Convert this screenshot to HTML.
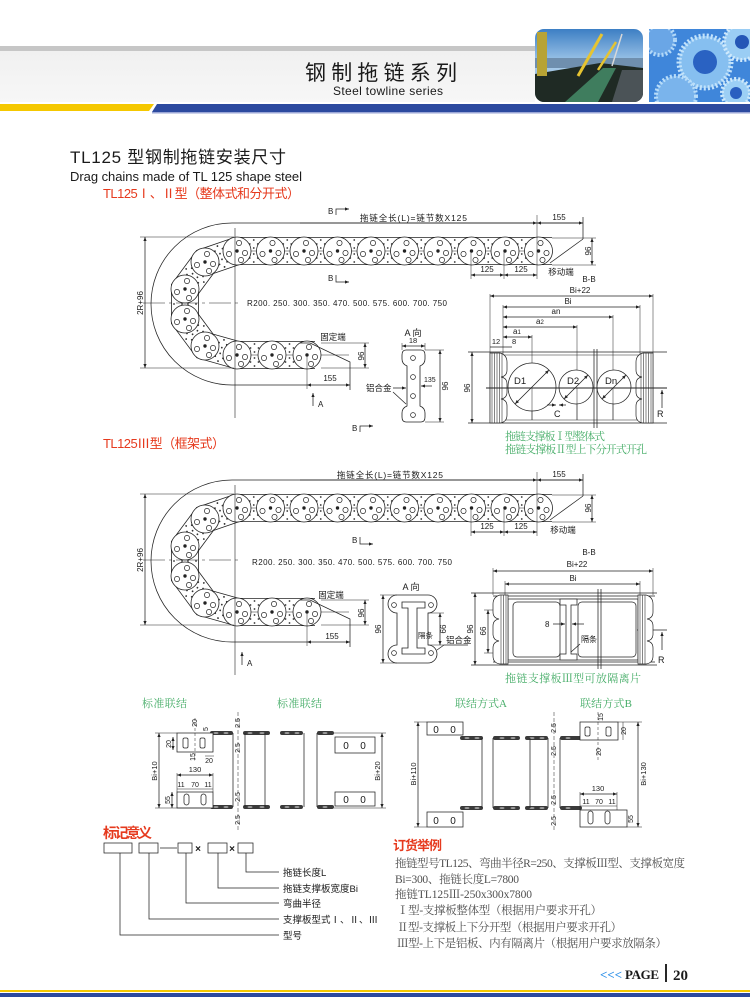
<!DOCTYPE html>
<html><head><meta charset="utf-8">
<style>
html,body{margin:0;padding:0;background:#fff;}
svg{display:block}
text{font-family:"Liberation Sans","Noto Sans CJK SC",sans-serif;fill:#1a1a1a}
text.s{font-family:"Liberation Serif","Noto Serif CJK SC",serif}
text.g{fill:#46ad68}
text.r{fill:#e63a1e}
text.o{font-family:"Liberation Serif","Noto Serif CJK SC",serif;fill:#505050;font-size:11.5px}
.t{font-size:8px}
.ln{fill:none;stroke:#222;stroke-width:.75}
.th{fill:none;stroke:#222;stroke-width:.5}
</style></head><body>
<svg width="750" height="1000" viewBox="0 0 750 1000" xmlns="http://www.w3.org/2000/svg">
<defs>
<marker id="ar" viewBox="0 0 10 10" refX="10" refY="5" markerUnits="userSpaceOnUse" markerWidth="5" markerHeight="4" orient="auto-start-reverse"><path d="M0,1 L10,5 L0,9z" fill="#222"/></marker>
<linearGradient id="sky" x1="0" y1="0" x2="0" y2="1"><stop offset="0" stop-color="#3d7fc4"/><stop offset=".5" stop-color="#a9cdec"/><stop offset="1" stop-color="#7e9fbd"/></linearGradient>
<linearGradient id="hb" x1="0" y1="0" x2="0" y2="1"><stop offset="0" stop-color="#f0f0f0"/><stop offset="1" stop-color="#f7f7f7"/></linearGradient>
<clipPath id="c1"><rect x="535" y="29" width="108" height="73" rx="9"/></clipPath>
<clipPath id="c2"><rect x="649" y="29" width="101" height="73"/></clipPath>
<g id="L"><circle r="14" fill="#fff" stroke="#222" stroke-width=".8"/><g fill="none" stroke="#222" stroke-width=".7"><circle cx="2" cy="-8" r="2.6"/><circle cx="-8" cy="3" r="2.6"/><circle cx="8" cy="2" r="2.6"/><circle cx="4" cy="9" r="2.6"/></g><circle r="1.7" fill="#222"/></g>
<g id="D" fill="#333"><circle cy="-11" r=".9"/><circle cx="-4" cy="-7" r=".9"/><circle cx="4" cy="-7" r=".9"/><circle cy="-3" r=".9"/><circle cy="3" r=".9"/><circle cx="-4" cy="7" r=".9"/><circle cx="4" cy="7" r=".9"/><circle cy="11" r=".9"/></g>
</defs>

<!-- HEADER -->
<rect x="0" y="46" width="535" height="5" fill="#c6c6c6"/>
<rect x="0" y="51" width="535" height="51" fill="url(#hb)"/>
<text x="305" y="80" font-size="21" textLength="152" lengthAdjust="spacing">钢制拖链系列</text>
<text x="333" y="95" font-size="12" textLength="110">Steel towline series</text>
<g clip-path="url(#c1)">
<rect x="535" y="29" width="108" height="73" fill="url(#sky)"/>
<rect x="535" y="58" width="108" height="10" fill="#6f8fae"/>
<polygon points="535,102 535,74 600,63 643,68 643,102" fill="#1f2a24"/>
<polygon points="565,102 603,68 616,68 598,102" fill="#3f7d5e"/>
<polygon points="612,102 622,70 643,70 643,102" fill="#4b5357"/>
<rect x="537" y="32" width="10" height="44" fill="#b7a335"/>
<line x1="578" y1="76" x2="602" y2="34" stroke="#e6c431" stroke-width="3"/>
<line x1="598" y1="70" x2="616" y2="42" stroke="#e6c431" stroke-width="2.5"/>
<line x1="612" y1="66" x2="622" y2="34" stroke="#d8d8d8" stroke-width="1.5"/>
</g>
<g clip-path="url(#c2)">
<rect x="649" y="29" width="101" height="73" fill="#3f86da"/>
<circle cx="705" cy="62" r="26" fill="#86bff0" stroke="#c3e3fb" stroke-width="5" stroke-dasharray="2 2"/>
<circle cx="705" cy="62" r="12" fill="#2a62c2"/>
<circle cx="742" cy="42" r="18" fill="#9acdf4" stroke="#cfe9fc" stroke-width="4" stroke-dasharray="2 2"/>
<circle cx="742" cy="42" r="7" fill="#2456b6"/>
<circle cx="676" cy="96" r="20" fill="#7ab4ec" stroke="#b9ddf9" stroke-width="4" stroke-dasharray="2 2"/>
<circle cx="736" cy="93" r="14" fill="#9ccff5" stroke="#cde8fb" stroke-width="4" stroke-dasharray="2 2"/>
<circle cx="736" cy="93" r="6" fill="#2a5fc0"/>
<circle cx="660" cy="40" r="15" fill="#6aa6e6" stroke="#b2d8f8" stroke-width="4" stroke-dasharray="2 2"/>
</g>
<polygon points="0,104 154,104 149,111 0,111" fill="#f5c800"/>
<polygon points="157,104 750,104 750,112 152,112" fill="#2c4a9f"/>
<rect x="152" y="112" width="598" height="1.5" fill="#9aa6d6"/>

<!-- HEADINGS -->
<text x="70" y="163" font-size="17" textLength="216">TL125 型钢制拖链安装尺寸</text>
<text x="70" y="181" font-size="13" textLength="232">Drag chains made of TL 125 shape steel</text>
<text x="103" y="198" font-size="13" class="r" textLength="197">TL125Ⅰ、Ⅱ型（整体式和分开式）</text>

<!-- CHAIN DIAGRAM 1 (geometry) -->
<g id="CH">
<path d="M552,251 L237,251 L205,262 L185,289 L185,319 L205,346 L237,355 L315,355" fill="none" stroke="#222" stroke-width="28"/>
<path d="M552,251 L237,251 L205,262 L185,289 L185,319 L205,346 L237,355 L315,355" fill="none" stroke="#fff" stroke-width="26.4"/>
<use href="#D" x="253.75" y="251"/><use href="#D" x="287.25" y="251"/><use href="#D" x="320.75" y="251"/><use href="#D" x="354.25" y="251"/><use href="#D" x="387.75" y="251"/><use href="#D" x="421.25" y="251"/><use href="#D" x="454.75" y="251"/><use href="#D" x="488.25" y="251"/><use href="#D" x="521.75" y="251"/>
<use href="#D" transform="translate(221,256.5) rotate(-19)"/>
<use href="#D" transform="translate(195,275.5) rotate(-53.5)"/>
<use href="#D" transform="translate(185,304) rotate(90)"/>
<use href="#D" transform="translate(195,332.5) rotate(53.5)"/>
<use href="#D" transform="translate(221,350.5) rotate(15.7)"/>
<use href="#D" x="254.5" y="355"/><use href="#D" x="289.5" y="355"/>
<line x1="237" y1="251" x2="552" y2="251" class="th"/>
<line x1="237" y1="355" x2="349" y2="355" class="th"/>
<use href="#L" x="237" y="251"/><use href="#L" x="270.5" y="251"/><use href="#L" x="304" y="251"/><use href="#L" x="337.5" y="251"/><use href="#L" x="371" y="251"/><use href="#L" x="404.5" y="251"/><use href="#L" x="438" y="251"/><use href="#L" x="471.5" y="251"/><use href="#L" x="505" y="251"/><use href="#L" x="538.5" y="251"/>
<use href="#L" x="205" y="262"/><use href="#L" x="185" y="289"/><use href="#L" x="185" y="319"/><use href="#L" x="205" y="346"/>
<use href="#L" x="237" y="355"/><use href="#L" x="272" y="355"/><use href="#L" x="307" y="355"/>
<g class="ln">
<path d="M583,223 H232 A81,81 0 0 0 232,385 H307"/>
<line x1="235" y1="228" x2="235" y2="418" stroke-width=".6"/>
<line x1="143" y1="303" x2="242" y2="303" stroke-dasharray="22 4 3 4" stroke-width=".6"/>
<line x1="140" y1="237" x2="234" y2="237" class="th"/>
<line x1="140" y1="368" x2="234" y2="368" class="th"/>
<line x1="145" y1="237" x2="145" y2="368" marker-start="url(#ar)" marker-end="url(#ar)"/>
<line x1="300" y1="223" x2="537" y2="223" marker-end="url(#ar)"/>
<line x1="537" y1="223" x2="583" y2="223" marker-start="url(#ar)" marker-end="url(#ar)"/>
<line x1="537" y1="215" x2="537" y2="279" class="th"/>
<line x1="583" y1="217" x2="583" y2="239"/>
<line x1="583" y1="239" x2="550" y2="263"/>
<line x1="552" y1="238" x2="596" y2="238" class="th"/>
<line x1="552" y1="265" x2="596" y2="265" class="th"/>
<line x1="592" y1="238" x2="592" y2="265" marker-start="url(#ar)" marker-end="url(#ar)"/>
<line x1="471" y1="251" x2="471" y2="279" class="th"/>
<line x1="504" y1="251" x2="504" y2="279" class="th"/>
<line x1="471" y1="275" x2="504" y2="275" marker-start="url(#ar)" marker-end="url(#ar)"/>
<line x1="504" y1="275" x2="537" y2="275" marker-start="url(#ar)" marker-end="url(#ar)"/>
<path d="M300,343 H310 L350,362 V390"/>
<line x1="321" y1="343" x2="369" y2="343" class="th"/>
<line x1="321" y1="368" x2="369" y2="368" class="th"/>
<line x1="365" y1="343" x2="365" y2="368" marker-start="url(#ar)" marker-end="url(#ar)"/>
<line x1="307" y1="357" x2="307" y2="389" class="th"/>
<line x1="307" y1="385" x2="350" y2="385" marker-start="url(#ar)" marker-end="url(#ar)"/>
</g>
</g>

<!-- diagram 1 labels -->
<g class="t">
<text x="328" y="214">B</text><path d="M336,215 V209 H349" class="ln" marker-end="url(#ar)"/>
<text x="360" y="221" font-size="8.5" textLength="107">拖链全长(L)=链节数X125</text>
<text x="559" y="220" text-anchor="middle">155</text>
<text x="487" y="272" text-anchor="middle">125</text>
<text x="521" y="272" text-anchor="middle">125</text>
<text x="561" y="275" text-anchor="middle" font-size="8.5">移动端</text>
<text x="591" y="251" transform="rotate(-90 591 251)" text-anchor="middle">96</text>
<text x="328" y="281">B</text><path d="M336,275 V282 H349" class="ln" marker-end="url(#ar)"/>
<text x="143" y="303" transform="rotate(-90 143 303)" text-anchor="middle">2R+96</text>
<text x="247" y="306" textLength="200">R200. 250. 300. 350. 470. 500. 575. 600. 700. 750</text>
<text x="333" y="340" text-anchor="middle" font-size="8.5">固定端</text>
<text x="364" y="356" transform="rotate(-90 364 356)" text-anchor="middle">96</text>
<text x="330" y="381" text-anchor="middle">155</text>
<line x1="313" y1="406" x2="313" y2="393" class="ln" marker-end="url(#ar)"/>
<text x="318" y="407">A</text>
<text x="352" y="431">B</text><path d="M360,432 V426 H373" class="ln" marker-end="url(#ar)"/>
</g>

<!-- A view 1 -->
<g class="t">
<text x="413" y="336" text-anchor="middle" font-size="9">A 向</text>
<path d="M406,350 Q402,350 402,355 V359 Q402,364 407,366 V406 Q402,408 402,413 V417 Q402,422 406,422 H421 Q425,422 425,417 V413 Q425,408 420,406 V366 Q425,364 425,359 V355 Q425,350 421,350 Z" fill="#fff" stroke="#222" stroke-width=".8"/>
<g fill="none" stroke="#222" stroke-width=".7"><circle cx="413" cy="358" r="2.4"/><circle cx="413" cy="377" r="2.4"/><circle cx="413" cy="396" r="2.4"/><circle cx="413" cy="415" r="2.4"/></g>
<g class="ln">
<line x1="402" y1="343" x2="402" y2="350" class="th"/><line x1="425" y1="343" x2="425" y2="350" class="th"/>
<line x1="402" y1="346" x2="425" y2="346" marker-start="url(#ar)" marker-end="url(#ar)"/>
<line x1="425" y1="350" x2="444" y2="350" class="th"/><line x1="425" y1="422" x2="444" y2="422" class="th"/>
<line x1="440" y1="350" x2="440" y2="422" marker-start="url(#ar)" marker-end="url(#ar)"/>
<line x1="432" y1="386" x2="421" y2="386" marker-end="url(#ar)"/>
<line x1="393" y1="388" x2="406" y2="388" marker-end="url(#ar)"/>
<line x1="393" y1="392" x2="406" y2="404"/>
</g>
<text x="413" y="343" text-anchor="middle" font-size="7.5">18</text>
<text x="424" y="382" font-size="7">135</text>
<text x="448" y="386" transform="rotate(-90 448 386)" text-anchor="middle">96</text>
<text x="366" y="391" font-size="8.5">铝合金</text>
</g>

<!-- B-B section 1 -->
<g class="t">
<text x="589" y="282" text-anchor="middle">B-B</text>
<text x="580" y="293" text-anchor="middle">Bi+22</text>
<text x="568" y="304" text-anchor="middle">Bi</text>
<text x="556" y="314" text-anchor="middle">an</text>
<text x="536" y="324">a<tspan font-size="6">2</tspan></text>
<text x="513" y="334">a<tspan font-size="6">1</tspan></text>
<text x="496" y="344" text-anchor="middle" font-size="7.5">12</text>
<text x="512" y="344" font-size="7.5">8</text>
<g class="ln">
<line x1="490" y1="294" x2="490" y2="423" class="th"/>
<line x1="653" y1="294" x2="653" y2="423" class="th"/>
<line x1="503" y1="305" x2="503" y2="423" class="th"/>
<line x1="640" y1="305" x2="640" y2="423" class="th"/>
<line x1="532" y1="335" x2="532" y2="420" class="th"/>
<line x1="577" y1="325" x2="577" y2="420" class="th"/>
<line x1="613" y1="315" x2="613" y2="420" class="th"/>
<line x1="490" y1="296" x2="653" y2="296" marker-start="url(#ar)" marker-end="url(#ar)"/>
<line x1="503" y1="307" x2="640" y2="307" marker-start="url(#ar)" marker-end="url(#ar)"/>
<line x1="503" y1="317" x2="613" y2="317" marker-start="url(#ar)" marker-end="url(#ar)"/>
<line x1="503" y1="327" x2="577" y2="327" marker-start="url(#ar)" marker-end="url(#ar)"/>
<line x1="503" y1="337" x2="532" y2="337" marker-start="url(#ar)" marker-end="url(#ar)"/>
<line x1="490" y1="347" x2="503" y2="347"/>
<line x1="503" y1="347" x2="512" y2="347"/>
<line x1="468" y1="352" x2="667" y2="352"/>
<line x1="490" y1="355" x2="653" y2="355" class="th"/>
<line x1="468" y1="423" x2="667" y2="423"/>
<line x1="490" y1="420" x2="653" y2="420" class="th"/>
<line x1="472" y1="352" x2="472" y2="423" marker-start="url(#ar)" marker-end="url(#ar)"/>
<line x1="594" y1="349" x2="594" y2="428"/>
<line x1="597" y1="349" x2="597" y2="428"/>
<circle cx="532" cy="387" r="24" fill="#fff"/>
<circle cx="576" cy="387" r="17" fill="#fff"/>
<circle cx="614" cy="387" r="17" fill="#fff"/>
<line x1="515" y1="404" x2="549" y2="370" marker-start="url(#ar)" marker-end="url(#ar)"/>
<line x1="564" y1="399" x2="588" y2="375" marker-start="url(#ar)" marker-end="url(#ar)"/>
<line x1="602" y1="399" x2="626" y2="375" marker-start="url(#ar)" marker-end="url(#ar)"/>
<line x1="532" y1="388" x2="532" y2="420" class="th"/>
<line x1="577" y1="388" x2="577" y2="420" class="th"/>
<line x1="613" y1="388" x2="613" y2="420" class="th"/>
<line x1="547" y1="405" x2="556" y2="405" marker-end="url(#ar)"/>
<line x1="566" y1="405" x2="559" y2="405" marker-end="url(#ar)"/>
<line x1="662" y1="390" x2="662" y2="408" marker-start="url(#ar)"/>
</g>
<g fill="#fff" stroke="#222" stroke-width=".7">
<path d="M490,353 H500 Q507,355 507,362 V370 Q507,376 501,377 Q507,378 507,384 V392 Q507,398 501,399 Q507,400 507,406 V415 Q507,422 500,423 H490 Z"/>
<path d="M653,353 H643 Q636,355 636,362 V370 Q636,376 642,377 Q636,378 636,384 V392 Q636,398 642,399 Q636,400 636,406 V415 Q636,422 643,423 H653 Z"/>
</g>
<g stroke="#333" stroke-width=".6"><line x1="492" y1="353" x2="492" y2="423"/><line x1="494.5" y1="353" x2="494.5" y2="423"/><line x1="497" y1="353" x2="497" y2="423"/><line x1="499.5" y1="353" x2="499.5" y2="423"/><line x1="502" y1="353" x2="502" y2="423"/>
<line x1="651" y1="353" x2="651" y2="423"/><line x1="648.5" y1="353" x2="648.5" y2="423"/><line x1="646" y1="353" x2="646" y2="423"/><line x1="643.5" y1="353" x2="643.5" y2="423"/><line x1="641" y1="353" x2="641" y2="423"/></g>
<line x1="486" y1="388" x2="667" y2="388" stroke="#222" stroke-width="1"/>
<text x="514" y="384" font-size="9.5">D1</text>
<text x="567" y="384" font-size="9.5">D2</text>
<text x="605" y="384" font-size="9.5">Dn</text>
<text x="554" y="417" font-size="9">C</text>
<text x="657" y="417" font-size="9">R</text>
<text x="470" y="388" transform="rotate(-90 470 388)" text-anchor="middle">96</text>
</g>
<text x="505" y="440" class="s g" font-size="11" textLength="100">拖链支撑板Ⅰ型整体式</text>
<text x="505" y="453" class="s g" font-size="11" textLength="142">拖链支撑板Ⅱ型上下分开式开孔</text>

<text x="103" y="448" font-size="13" class="r" textLength="122">TL125Ⅲ型（框架式）</text>

<!-- CHAIN DIAGRAM 2 -->
<use href="#CH" transform="translate(0,257)"/>
<g class="t">
<text x="337" y="478" font-size="8.5" textLength="106">拖链全长(L)=链节数X125</text>
<text x="559" y="477" text-anchor="middle">155</text>
<text x="487" y="529" text-anchor="middle">125</text>
<text x="521" y="529" text-anchor="middle">125</text>
<text x="563" y="533" text-anchor="middle" font-size="8.5">移动端</text>
<text x="591" y="508" transform="rotate(-90 591 508)" text-anchor="middle">96</text>
<text x="352" y="543">B</text><path d="M360,537 V544 H373" class="ln" marker-end="url(#ar)"/>
<text x="143" y="560" transform="rotate(-90 143 560)" text-anchor="middle">2R+96</text>
<text x="252" y="565" textLength="200">R200. 250. 300. 350. 470. 500. 575. 600. 700. 750</text>
<text x="331" y="598" text-anchor="middle" font-size="8.5">固定端</text>
<text x="364" y="613" transform="rotate(-90 364 613)" text-anchor="middle">96</text>
<text x="332" y="639" text-anchor="middle">155</text>
<line x1="242" y1="665" x2="242" y2="652" class="ln" marker-end="url(#ar)"/>
<text x="247" y="666">A</text>
</g>

<!-- A view 2 -->
<g class="t">
<text x="411" y="590" text-anchor="middle" font-size="9">A 向</text>
<path d="M397,595 H428 A9,9 0 0 1 437,604 A9,9 0 0 1 428,613 V645 A9,9 0 0 1 437,654 A9,9 0 0 1 428,663 H397 A9,9 0 0 1 388,654 A9,9 0 0 1 397,645 V613 A9,9 0 0 1 388,604 A9,9 0 0 1 397,595 Z" fill="#fff" stroke="#222" stroke-width=".8"/>
<path d="M402,602 H425 V608 H417 V648 H425 V654 H402 V648 H408 V608 H402 Z" fill="#fff" stroke="#222" stroke-width=".8"/>
<g fill="none" stroke="#222" stroke-width=".7"><circle cx="394" cy="605" r="2.4"/><circle cx="431" cy="605" r="2.4"/><circle cx="394" cy="653" r="2.4"/><circle cx="431" cy="653" r="2.4"/></g>
<g class="ln">
<line x1="380" y1="595" x2="397" y2="595" class="th"/><line x1="380" y1="663" x2="397" y2="663" class="th"/>
<line x1="383" y1="595" x2="383" y2="663" marker-start="url(#ar)" marker-end="url(#ar)"/>
<line x1="428" y1="613" x2="444" y2="613" class="th"/><line x1="428" y1="645" x2="444" y2="645" class="th"/>
<line x1="440" y1="613" x2="440" y2="645" marker-start="url(#ar)" marker-end="url(#ar)"/>
<line x1="437" y1="650" x2="444" y2="645"/><line x1="444" y1="645" x2="468" y2="645"/>
</g>
<text x="381" y="629" transform="rotate(-90 381 629)" text-anchor="middle">96</text>
<text x="446" y="629" transform="rotate(-90 446 629)" text-anchor="middle">66</text>
<text x="418" y="638" font-size="7.5">隔条</text>
<text x="446" y="643" font-size="8.5">铝合金</text>
</g>

<!-- B-B section 2 -->
<g class="t">
<text x="589" y="555" text-anchor="middle">B-B</text>
<text x="577" y="567" text-anchor="middle">Bi+22</text>
<text x="573" y="581" text-anchor="middle">Bi</text>
<g class="ln">
<line x1="493" y1="568" x2="493" y2="595" class="th"/><line x1="653" y1="568" x2="653" y2="595" class="th"/>
<line x1="493" y1="571" x2="653" y2="571" marker-start="url(#ar)" marker-end="url(#ar)"/>
<line x1="505" y1="581" x2="505" y2="598" class="th"/><line x1="640" y1="581" x2="640" y2="598" class="th"/>
<line x1="505" y1="584" x2="640" y2="584" marker-start="url(#ar)" marker-end="url(#ar)"/>
<line x1="471" y1="593" x2="657" y2="593"/>
<line x1="493" y1="596" x2="655" y2="596"/>
<line x1="493" y1="662" x2="655" y2="662"/>
<line x1="471" y1="665" x2="657" y2="665"/>
<rect x="508" y="599" width="130" height="61"/>
<rect x="513" y="602" width="47" height="55" rx="4"/>
<rect x="578" y="602" width="58" height="55" rx="4"/>
<path d="M560,599 H577 V605 H571 V654 H577 V660 H560 V654 H566 V605 H560 Z" fill="#fff"/>
<line x1="598" y1="589" x2="598" y2="669"/><line x1="601" y1="589" x2="601" y2="669"/>
<line x1="475" y1="593" x2="475" y2="665" marker-start="url(#ar)" marker-end="url(#ar)"/>
<line x1="484" y1="610" x2="500" y2="610" class="th"/><line x1="484" y1="653" x2="500" y2="653" class="th"/>
<line x1="488" y1="610" x2="488" y2="653" marker-start="url(#ar)" marker-end="url(#ar)"/>
<line x1="553" y1="624" x2="565" y2="624" marker-end="url(#ar)"/>
<line x1="584" y1="624" x2="572" y2="624" marker-end="url(#ar)"/>
<line x1="580" y1="644" x2="571" y2="652"/>
<line x1="637" y1="630" x2="667" y2="630"/>
<line x1="662" y1="632" x2="662" y2="650" marker-start="url(#ar)"/>
</g>
<g fill="#fff" stroke="#222" stroke-width=".7">
<path d="M508,595 H500 Q493,597 493,604 V612 Q493,618 499,619 Q493,620 493,626 V634 Q493,640 499,641 Q493,642 493,648 V656 Q493,663 500,664 H508 Z"/>
<path d="M638,595 H646 Q653,597 653,604 V612 Q653,618 647,619 Q653,620 653,626 V634 Q653,640 647,641 Q653,642 653,648 V656 Q653,663 646,664 H638 Z"/>
</g>
<g stroke="#333" stroke-width=".6"><line x1="501" y1="595" x2="501" y2="664"/><line x1="503.5" y1="595" x2="503.5" y2="664"/><line x1="506" y1="595" x2="506" y2="664"/>
<line x1="640" y1="595" x2="640" y2="664"/><line x1="642.5" y1="595" x2="642.5" y2="664"/><line x1="645" y1="595" x2="645" y2="664"/></g>
<text x="545" y="627" font-size="8">8</text>
<text x="581" y="642" font-size="8">隔条</text>
<text x="658" y="663" font-size="9">R</text>
<text x="473" y="629" transform="rotate(-90 473 629)" text-anchor="middle">96</text>
<text x="486" y="631" transform="rotate(-90 486 631)" text-anchor="middle">66</text>
</g>
<text x="505" y="682" class="s g" font-size="11" textLength="136">拖链支撑板Ⅲ型可放隔离片</text>

<!-- CONNECTION FIGURES -->
<text x="142" y="707" class="s g" font-size="11" textLength="45">标准联结</text>
<text x="277" y="707" class="s g" font-size="11" textLength="45">标准联结</text>
<text x="455" y="707" class="s g" font-size="11" textLength="52">联结方式A</text>
<text x="580" y="707" class="s g" font-size="11" textLength="52">联结方式B</text>

<g fill="#3a3a3a">
<rect x="210" y="731" width="23" height="4" rx="2"/><rect x="243" y="731" width="27" height="4" rx="2"/>
<rect x="210" y="805" width="23" height="4" rx="2"/><rect x="243" y="805" width="27" height="4" rx="2"/>
<rect x="280" y="731" width="23" height="4" rx="2"/><rect x="317" y="731" width="17" height="4" rx="2"/>
<rect x="280" y="805" width="23" height="4" rx="2"/><rect x="317" y="805" width="17" height="4" rx="2"/>
<rect x="460" y="736" width="23" height="4" rx="2"/><rect x="493" y="736" width="27" height="4" rx="2"/>
<rect x="525" y="736" width="23" height="4" rx="2"/><rect x="560" y="736" width="22" height="4" rx="2"/>
<rect x="460" y="806" width="23" height="4" rx="2"/><rect x="493" y="806" width="27" height="4" rx="2"/>
<rect x="525" y="806" width="23" height="4" rx="2"/><rect x="560" y="806" width="22" height="4" rx="2"/>
</g>
<g fill="#9a9a9a">
<ellipse cx="216" cy="733" rx="2.5" ry="1"/><ellipse cx="226" cy="733" rx="2.5" ry="1"/><ellipse cx="250" cy="733" rx="2.5" ry="1"/><ellipse cx="262" cy="733" rx="2.5" ry="1"/>
<ellipse cx="216" cy="807" rx="2.5" ry="1"/><ellipse cx="226" cy="807" rx="2.5" ry="1"/><ellipse cx="250" cy="807" rx="2.5" ry="1"/><ellipse cx="262" cy="807" rx="2.5" ry="1"/>
<ellipse cx="287" cy="733" rx="2.5" ry="1"/><ellipse cx="297" cy="733" rx="2.5" ry="1"/><ellipse cx="325" cy="733" rx="2.5" ry="1"/>
<ellipse cx="287" cy="807" rx="2.5" ry="1"/><ellipse cx="297" cy="807" rx="2.5" ry="1"/><ellipse cx="325" cy="807" rx="2.5" ry="1"/>
<ellipse cx="467" cy="738" rx="2.5" ry="1"/><ellipse cx="477" cy="738" rx="2.5" ry="1"/><ellipse cx="502" cy="738" rx="2.5" ry="1"/><ellipse cx="513" cy="738" rx="2.5" ry="1"/><ellipse cx="532" cy="738" rx="2.5" ry="1"/><ellipse cx="542" cy="738" rx="2.5" ry="1"/><ellipse cx="568" cy="738" rx="2.5" ry="1"/>
<ellipse cx="467" cy="808" rx="2.5" ry="1"/><ellipse cx="477" cy="808" rx="2.5" ry="1"/><ellipse cx="502" cy="808" rx="2.5" ry="1"/><ellipse cx="513" cy="808" rx="2.5" ry="1"/><ellipse cx="532" cy="808" rx="2.5" ry="1"/><ellipse cx="542" cy="808" rx="2.5" ry="1"/><ellipse cx="568" cy="808" rx="2.5" ry="1"/>
</g>
<g class="ln">
<!-- fig1 -->
<line x1="233" y1="733" x2="233" y2="807"/><line x1="245" y1="733" x2="245" y2="807"/><line x1="265" y1="733" x2="265" y2="807"/>
<line x1="238" y1="712" x2="238" y2="830" stroke-dasharray="4 2" class="th"/>
<rect x="177" y="733" width="36" height="19" fill="#fff"/>
<rect x="183" y="738" width="5" height="10" rx="1.5"/><rect x="200" y="738" width="5" height="10" rx="1.5"/>
<line x1="195" y1="718" x2="195" y2="760" class="th" stroke-dasharray="3 2"/>
<line x1="173" y1="737" x2="173" y2="750" marker-start="url(#ar)" marker-end="url(#ar)"/>
<line x1="205" y1="756" x2="214" y2="756" class="th"/>
<rect x="177" y="792" width="36" height="16" fill="#fff"/>
<rect x="184" y="794" width="5" height="11" rx="2.5"/><rect x="201" y="794" width="5" height="11" rx="2.5"/>
<line x1="177" y1="775" x2="213" y2="775" marker-start="url(#ar)" marker-end="url(#ar)"/>
<line x1="177" y1="773" x2="177" y2="792" class="th"/><line x1="213" y1="773" x2="213" y2="792" class="th"/>
<line x1="177" y1="789" x2="213" y2="789" class="th"/>
<line x1="172" y1="792" x2="172" y2="808" marker-start="url(#ar)" marker-end="url(#ar)"/>
<line x1="155" y1="733" x2="177" y2="733" class="th"/><line x1="155" y1="808" x2="210" y2="808" class="th"/>
<line x1="159" y1="733" x2="159" y2="808" marker-start="url(#ar)" marker-end="url(#ar)"/>
<!-- fig2 -->
<line x1="304" y1="733" x2="304" y2="807"/><line x1="317" y1="733" x2="317" y2="807"/>
<rect x="335" y="737" width="40" height="16" fill="#fff"/>
<rect x="335" y="792" width="40" height="14" fill="#fff"/>
<line x1="334" y1="733" x2="386" y2="733" class="th"/><line x1="334" y1="808" x2="386" y2="808" class="th"/>
<line x1="382" y1="733" x2="382" y2="808" marker-start="url(#ar)" marker-end="url(#ar)"/>
<!-- fig3 A -->
<rect x="427" y="722" width="36" height="13" fill="#fff"/>
<rect x="427" y="812" width="36" height="15" fill="#fff"/>
<line x1="482" y1="738" x2="482" y2="808"/><line x1="493" y1="738" x2="493" y2="808"/>
<line x1="414" y1="722" x2="427" y2="722" class="th"/><line x1="414" y1="827" x2="427" y2="827" class="th"/>
<line x1="418" y1="722" x2="418" y2="827" marker-start="url(#ar)" marker-end="url(#ar)"/>
<line x1="530" y1="738" x2="530" y2="808"/><line x1="548" y1="738" x2="548" y2="808"/><line x1="560" y1="738" x2="560" y2="808"/>
<line x1="554" y1="712" x2="554" y2="830" stroke-dasharray="4 2" class="th"/>
<!-- fig3 B -->
<rect x="580" y="722" width="38" height="18" fill="#fff"/>
<rect x="585" y="727" width="5" height="9" rx="1.5"/><rect x="606" y="727" width="5" height="9" rx="1.5"/>
<line x1="598" y1="712" x2="598" y2="760" class="th" stroke-dasharray="3 2"/>
<rect x="580" y="810" width="47" height="17" fill="#fff"/>
<rect x="588" y="811" width="5" height="13" rx="2.5"/><rect x="605" y="811" width="5" height="13" rx="2.5"/>
<line x1="580" y1="794" x2="617" y2="794" marker-start="url(#ar)" marker-end="url(#ar)"/>
<line x1="580" y1="792" x2="580" y2="810" class="th"/><line x1="617" y1="792" x2="617" y2="810" class="th"/>
<line x1="580" y1="806" x2="617" y2="806" class="th"/>
<line x1="618" y1="722" x2="642" y2="722" class="th"/><line x1="627" y1="827" x2="642" y2="827" class="th"/>
<line x1="638" y1="722" x2="638" y2="827" marker-start="url(#ar)" marker-end="url(#ar)"/>
<line x1="623" y1="722" x2="623" y2="740" class="th"/>
</g>
<g font-size="7">
<text x="240" y="723" transform="rotate(-90 240 723)" text-anchor="middle">2.5</text>
<text x="240" y="748" transform="rotate(-90 240 748)" text-anchor="middle">2.5</text>
<text x="240" y="797" transform="rotate(-90 240 797)" text-anchor="middle">2.5</text>
<text x="240" y="820" transform="rotate(-90 240 820)" text-anchor="middle">2.5</text>
<text x="556" y="728" transform="rotate(-90 556 728)" text-anchor="middle">2.5</text>
<text x="556" y="751" transform="rotate(-90 556 751)" text-anchor="middle">2.5</text>
<text x="556" y="800" transform="rotate(-90 556 800)" text-anchor="middle">2.5</text>
<text x="556" y="821" transform="rotate(-90 556 821)" text-anchor="middle">2.5</text>
<text x="197" y="723" transform="rotate(-90 197 723)" text-anchor="middle">20</text>
<text x="208" y="729" transform="rotate(-90 208 729)" text-anchor="middle">5</text>
<text x="171" y="744" transform="rotate(-90 171 744)" text-anchor="middle">20</text>
<text x="195" y="757" transform="rotate(-90 195 757)" text-anchor="middle">15</text>
<text x="209" y="763" text-anchor="middle">20</text>
<text x="195" y="772" text-anchor="middle" font-size="7.5">130</text>
<text x="181" y="787" text-anchor="middle">11</text><text x="195" y="787" text-anchor="middle">70</text><text x="208" y="787" text-anchor="middle">11</text>
<text x="170" y="800" transform="rotate(-90 170 800)" text-anchor="middle">55</text>
<text x="157" y="771" transform="rotate(-90 157 771)" text-anchor="middle" font-size="7.5">Bi+10</text>
<text x="380" y="771" transform="rotate(-90 380 771)" text-anchor="middle" font-size="7.5">Bi+20</text>
<text x="416" y="774" transform="rotate(-90 416 774)" text-anchor="middle" font-size="7.5">Bi+110</text>
<text x="646" y="774" transform="rotate(-90 646 774)" text-anchor="middle" font-size="7.5">Bi+130</text>
<text x="603" y="717" transform="rotate(-90 603 717)" text-anchor="middle">15</text>
<text x="626" y="731" transform="rotate(-90 626 731)" text-anchor="middle">20</text>
<text x="601" y="752" transform="rotate(-90 601 752)" text-anchor="middle">20</text>
<text x="598" y="791" text-anchor="middle" font-size="7.5">130</text>
<text x="586" y="804" text-anchor="middle">11</text><text x="599" y="804" text-anchor="middle">70</text><text x="612" y="804" text-anchor="middle">11</text>
<text x="633" y="819" transform="rotate(-90 633 819)" text-anchor="middle">55</text>
</g>
<g font-size="10">
<text x="346" y="749" text-anchor="middle">0</text><text x="363" y="749" text-anchor="middle">0</text>
<text x="346" y="803" text-anchor="middle">0</text><text x="363" y="803" text-anchor="middle">0</text>
<text x="436" y="733" text-anchor="middle">0</text><text x="453" y="733" text-anchor="middle">0</text>
<text x="436" y="824" text-anchor="middle">0</text><text x="453" y="824" text-anchor="middle">0</text>
</g>

<!-- LEGEND -->
<text x="103" y="838" font-size="14" class="r" font-weight="bold" textLength="49">标记意义</text>
<g class="ln" stroke-width=".8">
<rect x="104" y="843" width="28" height="10"/>
<rect x="139" y="843" width="19" height="10"/>
<line x1="160" y1="848" x2="177" y2="848"/>
<rect x="178" y="843" width="14" height="10"/>
<rect x="208" y="843" width="19" height="10"/>
<rect x="238" y="843" width="15" height="10"/>
<path d="M246,853 V872 H279"/>
<path d="M218,853 V888 H279"/>
<path d="M186,853 V903 H279"/>
<path d="M149,853 V919 H279"/>
<path d="M120,853 V935 H279"/>
</g>
<text x="198" y="852" text-anchor="middle" font-size="10" font-weight="bold">×</text>
<text x="232" y="852" text-anchor="middle" font-size="10" font-weight="bold">×</text>
<g font-size="9.5">
<text x="283" y="876">拖链长度L</text>
<text x="283" y="892">拖链支撑板宽度Bi</text>
<text x="283" y="907">弯曲半径</text>
<text x="283" y="923">支撑板型式Ⅰ、Ⅱ、Ⅲ</text>
<text x="283" y="939">型号</text>
</g>

<!-- ORDER EXAMPLE -->
<text x="393" y="850" font-size="13" class="r" font-weight="bold" textLength="49">订货举例</text>
<text x="395" y="867" class="o" textLength="290">拖链型号TL125、弯曲半径R=250、支撑板Ⅲ型、支撑板宽度</text>
<text x="395" y="883" class="o" textLength="124">Bi=300、拖链长度L=7800</text>
<text x="395" y="898" class="o" textLength="137">拖链TL125Ⅲ-250x300x7800</text>
<text x="397" y="914" class="o" textLength="205">Ⅰ型-支撑板整体型（根据用户要求开孔）</text>
<text x="397" y="931" class="o" textLength="225">Ⅱ型-支撑板上下分开型（根据用户要求开孔）</text>
<text x="397" y="947" class="o" textLength="270">Ⅲ型-上下是铝板、内有隔离片（根据用户要求放隔条）</text>

<!-- FOOTER -->
<text x="600" y="979" class="s" font-size="13" font-weight="bold" style="fill:#2a8ee8" textLength="22">&lt;&lt;&lt;</text>
<text x="625" y="979" class="s" font-size="13" font-weight="bold" textLength="34">PAGE</text>
<line x1="666" y1="964" x2="666" y2="982" stroke="#111" stroke-width="1.8"/>
<text x="673" y="980" class="s" font-size="15" font-weight="bold">20</text>
<rect x="0" y="990" width="750" height="2" fill="#f5c800"/>
<rect x="0" y="993" width="750" height="4" fill="#2c4a9f"/>
</svg>
</body></html>
